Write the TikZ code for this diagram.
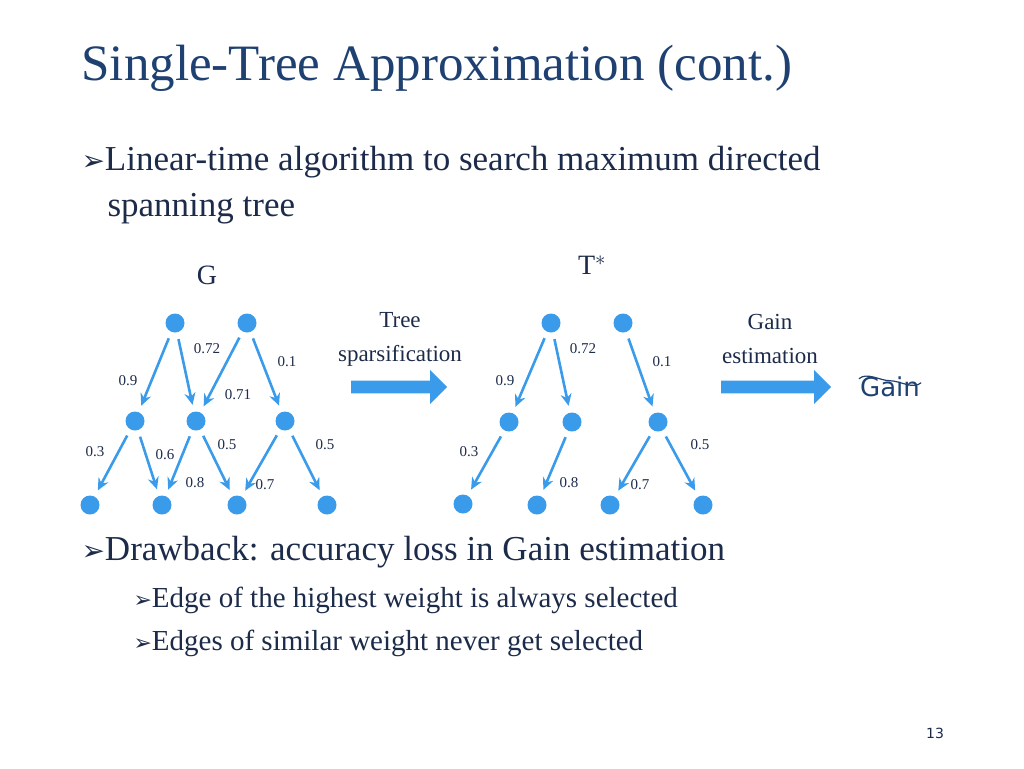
\documentclass[tikz,border=0pt]{standalone}
\usepackage{fontspec}
\setmainfont{Liberation Serif}
\setsansfont{DejaVu Sans}
\newfontfamily\symfont{DejaVu Sans}
\usetikzlibrary{shapes.arrows,arrows.meta}
\definecolor{titleblue}{HTML}{1F4172}
\definecolor{textnavy}{HTML}{1C2B4A}
\definecolor{nodeblue}{HTML}{3A9BEB}
\newcommand{\bul}{{\symfont\char"27A2}}
\begin{document}
\begin{tikzpicture}[x=1pt,y=-1pt,
  vtx/.style={circle,fill=nodeblue,inner sep=0pt,minimum size=19pt,outer sep=7pt},
  edge/.style={->,nodeblue,line width=2.6pt,>={Stealth[length=12pt,width=11pt]}},
  wt/.style={textnavy,font=\fontsize{15}{15}\selectfont},
  bigarrow/.style={single arrow,fill=nodeblue,minimum height=96pt,minimum width=34pt,single arrow head extend=7pt,single arrow head indent=0pt,inner sep=4pt}]
\useasboundingbox (0,0) rectangle (1024,768);
\node[anchor=west,titleblue,font=\fontsize{51}{51}\selectfont] (title) at (78,68) {Single-Tree Approximation (cont.)};
\node[anchor=north west,textnavy,align=left,font=\fontsize{35}{46}\selectfont] (b1) at (78,143) {\fontsize{28}{28}\bul\fontsize{35}{46}\selectfont{}Linear-time algorithm to search maximum directed\\\hspace*{26pt}spanning tree};
\node[textnavy,font=\fontsize{28}{28}\selectfont] (g) at (207,275) {G};
\node[textnavy,font=\fontsize{28}{28}\selectfont] (tstar) at (592,265) {T$^{*}$};
% graph G
\node[vtx] (ga) at (175,323) {};
\node[vtx] (gb) at (247,323) {};
\node[vtx] (gc) at (135,421) {};
\node[vtx] (gd) at (196,421) {};
\node[vtx] (ge) at (285,421) {};
\node[vtx] (gf) at (90,505) {};
\node[vtx] (gg) at (162,505) {};
\node[vtx] (gh) at (237,505) {};
\node[vtx] (gi) at (327,505) {};
\draw[edge] (ga) -- (gc); \node[wt] at (128,381) {0.9};
\draw[edge] (ga) -- (gd); \node[wt] at (207,349) {0.72};
\draw[edge] (gb) -- (gd); \node[wt] at (238,395) {0.71};
\draw[edge] (gb) -- (ge); \node[wt] at (287,362) {0.1};
\draw[edge] (gc) -- (gf); \node[wt] at (95,452) {0.3};
\draw[edge] (gc) -- (gg); \node[wt] at (165,455) {0.6};
\draw[edge] (gd) -- (gg); \node[wt] at (195,483) {0.8};
\draw[edge] (gd) -- (gh); \node[wt] at (227,445) {0.5};
\draw[edge] (ge) -- (gh); \node[wt] at (265,485) {0.7};
\draw[edge] (ge) -- (gi); \node[wt] at (325,445) {0.5};
% tree T*
\node[vtx] (ta) at (551,323) {};
\node[vtx] (tb) at (623,323) {};
\node[vtx] (tc) at (509,422) {};
\node[vtx] (td) at (572,422) {};
\node[vtx] (te) at (658,422) {};
\node[vtx] (tf) at (463,504) {};
\node[vtx] (tg) at (537,505) {};
\node[vtx] (th) at (610,505) {};
\node[vtx] (ti) at (703,505) {};
\draw[edge] (ta) -- (tc); \node[wt] at (505,381) {0.9};
\draw[edge] (ta) -- (td); \node[wt] at (583,349) {0.72};
\draw[edge] (tb) -- (te); \node[wt] at (662,362) {0.1};
\draw[edge] (tc) -- (tf); \node[wt] at (469,452) {0.3};
\draw[edge] (td) -- (tg); \node[wt] at (569,483) {0.8};
\draw[edge] (te) -- (th); \node[wt] at (640,485) {0.7};
\draw[edge] (te) -- (ti); \node[wt] at (700,445) {0.5};
% steps
\node[bigarrow] (arr1) at (396,387) {};
\node[textnavy,align=center,font=\fontsize{23}{34}\selectfont] (sparse) at (400,339) {Tree\\sparsification};
\node[bigarrow,minimum height=110pt] (arr2) at (773,387) {};
\node[textnavy,align=center,font=\fontsize{23}{34}\selectfont] (estim) at (770,339) {Gain\\estimation};
\node[titleblue,font=\sffamily\fontsize{26}{26}\selectfont,inner sep=1pt] (gain) at (890,387) {Gain};
\draw[titleblue,line width=1.2pt] ([yshift=-3pt]gain.north west) .. controls ++(8,-7) and ++(-10,0) .. ([yshift=-5pt]gain.north) .. controls ++(10,0) and ++(-8,7) .. ([yshift=-7pt]gain.north east);
% drawbacks
\node[anchor=west,textnavy,font=\fontsize{35}{35}\selectfont] (b2) at (78,552) {\fontsize{28}{28}\bul\fontsize{35}{35}\selectfont{}Drawback: accuracy loss in Gain estimation};
\node[anchor=west,textnavy,font=\fontsize{29}{29}\selectfont] (b3) at (130,600) {\fontsize{22}{22}\bul\fontsize{29}{29}\selectfont{}Edge of the highest weight is always selected};
\node[anchor=west,textnavy,font=\fontsize{29}{29}\selectfont] (b4) at (130,643) {\fontsize{22}{22}\bul\fontsize{29}{29}\selectfont{}Edges of similar weight never get selected};
\node[textnavy,font=\sffamily\fontsize{14}{14}\selectfont] (page) at (935,733) {13};
\end{tikzpicture}
\end{document}
